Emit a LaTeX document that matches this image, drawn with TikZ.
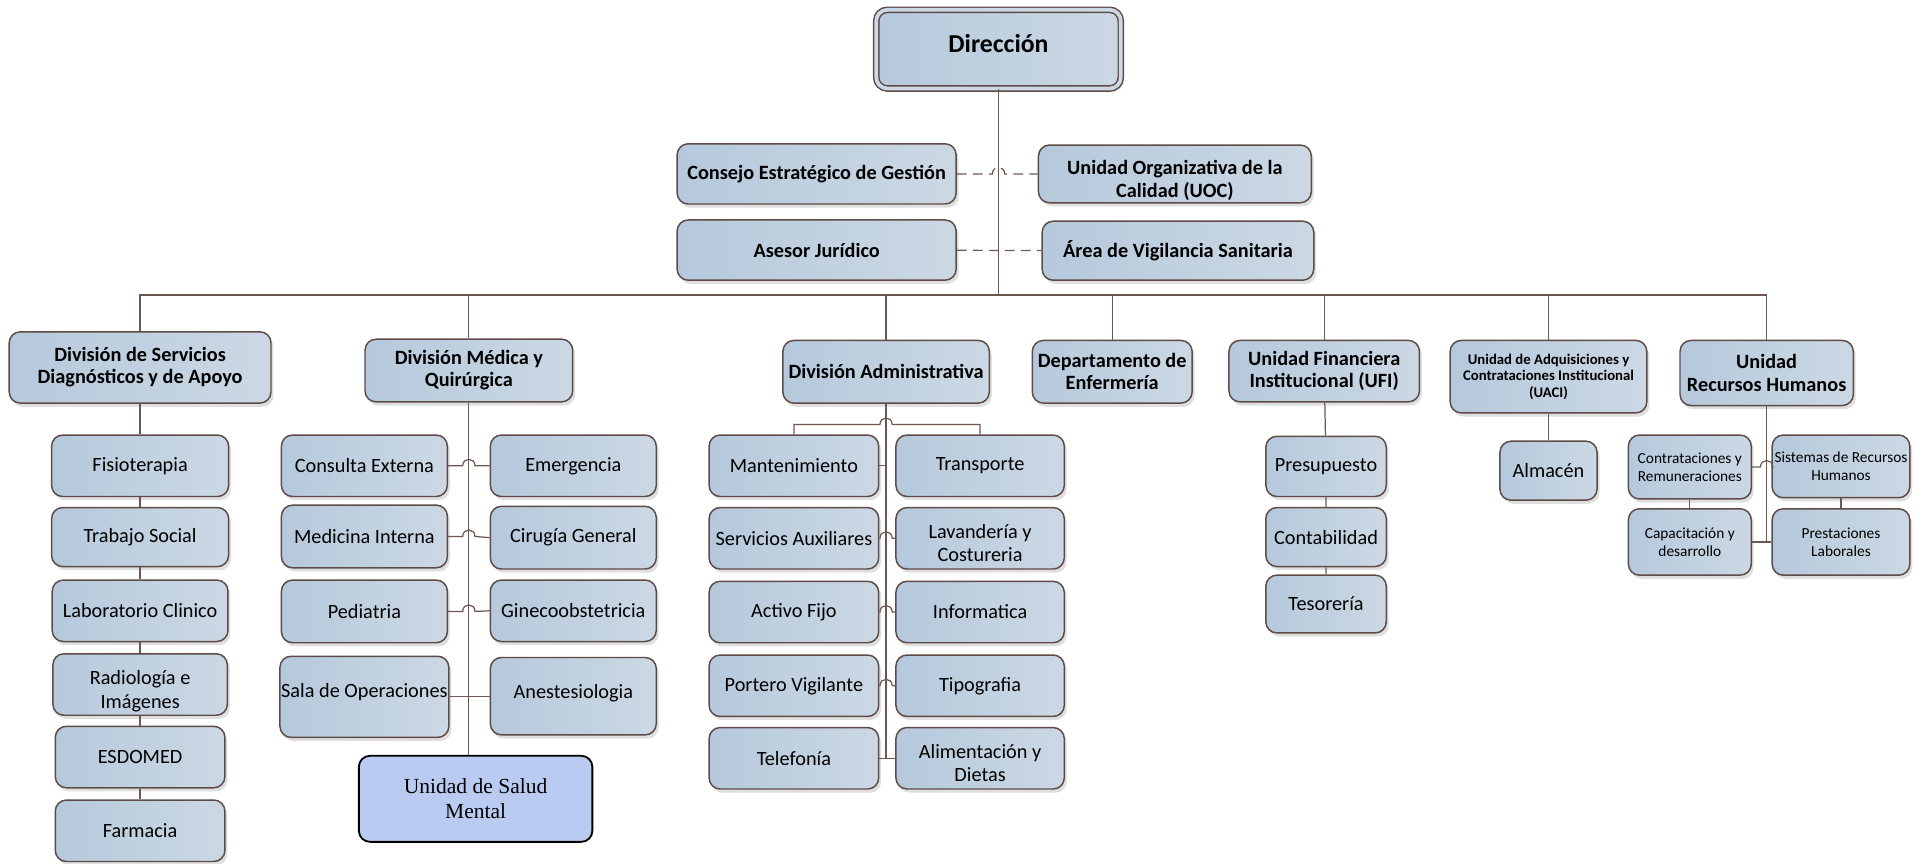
\documentclass[tikz,border=0pt]{standalone}
\usepackage{fontspec}
\setmainfont{Carlito}
\newfontfamily\timesfont{Liberation Serif}
\usepackage{tikz}
\usetikzlibrary{shadows,calc}
\definecolor{boxleft}{HTML}{B5C9DC}
\definecolor{boxright}{HTML}{CCD8E4}
\definecolor{boxborder}{HTML}{5E4B47}
\definecolor{linkcolor}{HTML}{6E5751}
\definecolor{mentalfill}{HTML}{B9CBF0}
\newcommand{\boxtext}{\fontsize{16.5}{18}\selectfont}
\newcommand{\headtext}{\fontsize{16.5}{18}\selectfont\bfseries}
\newcommand{\smalltext}{\fontsize{12.5}{14.5}\selectfont}
\newcommand{\lowtext}[1]{\raisebox{-10.5pt}[0pt][0pt]{\begin{tabular}{@{}c@{}}#1\end{tabular}}}
\tikzstyle{unit}=[draw=boxborder, line width=1.2pt, rounded corners=9pt,
                  left color=boxleft, right color=boxright, align=center, inner sep=1pt,
                  font=\boxtext,
                  % soft shadow below right
                  drop shadow={shadow xshift=2pt, shadow yshift=-3pt, opacity=0.18, fill=black!70}]
\tikzstyle{hunit}=[unit, font=\headtext]
\tikzstyle{mental}=[draw=black, line width=1.5pt, rounded corners=9pt, fill=mentalfill,
                    align=center, font=\timesfont\fontsize{17.5}{20}\selectfont]
\tikzstyle{link}=[draw=linkcolor, line width=1pt]
\tikzstyle{advice}=[link, dash pattern=on 8pt off 5pt]
\tikzset{dims/.style 2 args={minimum width=#1pt, minimum height=#2pt}}
% line from #2 to #3 that jumps over the vertical through #4
\newcommand{\hopover}[4][link]{%
  \draw[#1] (#2.east) -- ($(#2.east -| #4)+(-5,0)$) .. controls +(0,-7) and +(0,-7) .. ++(10,0) -- (#3.west);}

\begin{document}
\begin{tikzpicture}[x=1pt, y=-1pt]
  \useasboundingbox (0,0) rectangle (1568,703);

  % top
  \node[hunit, dims={199}{64}, double=boxright, double distance=3pt,
        font=\fontsize{21}{22}\selectfont\bfseries] (dir) at (812.5,40) {\raisebox{10pt}{Dirección}};
  \node[hunit, dims={227}{49}] (cons) at (664.5,141.5) {Consejo Estratégico de Gestión};
  \node[hunit, dims={222}{47}] (uoc) at (956,141.5) {\lowtext{Unidad Organizativa de la\\[1pt]Calidad (UOC)}};
  \node[hunit, dims={227}{49}] (ases) at (664.5,203.5) {Asesor Jurídico};
  \node[hunit, dims={221}{48}] (avs) at (958.5,204) {Área de Vigilancia Sanitaria};
  \coordinate (bus) at (812.5,240);

  % divisions
  \node[hunit, dims={213}{58}] (dsd) at (114,299) {División de Servicios\\Diagnósticos y de Apoyo};
  \node[hunit, dims={169}{51}] (dmq) at (381.5,301.5) {División Médica y\\Quirúrgica};
  \node[hunit, dims={168}{51}] (dad) at (721,302.5) {División Administrativa};
  \node[hunit, dims={130}{51}] (denf) at (905,302.5) {Departamento de\\Enfermería};
  \node[hunit, dims={155}{50}] (ufi) at (1077.5,302) {Unidad Financiera\\Institucional (UFI)};
  \node[unit, dims={160}{59}, font=\fontsize{12}{13.5}\selectfont\bfseries] (uaci) at (1260,306.5)
       {Unidad de Adquisiciones y\\Contrataciones Institucional\\(UACI)};
  \node[hunit, dims={141}{53}] (urh) at (1437.5,303.5) {Unidad\\Recursos Humanos};

  % servicios diagnosticos
  \node[unit, dims={144}{50}] (fis) at (114,379) {Fisioterapia};
  \node[unit, dims={144}{48}] (tso) at (114,437) {Trabajo Social};
  \node[unit, dims={143}{50}] (lab) at (114,497) {Laboratorio Clinico};
  \node[unit, dims={142}{50}] (rad) at (114,557) {\lowtext{Radiología e\\[1pt]Imágenes}};
  \node[unit, dims={138}{50}] (esd) at (114,616) {ESDOMED};
  \node[unit, dims={138}{50}] (far) at (114,676) {Farmacia};

  % medica y quirurgica
  \node[unit, dims={135}{50}] (cex) at (296.5,379) {Consulta Externa};
  \node[unit, dims={135}{50}] (eme) at (466.5,379) {Emergencia};
  \node[unit, dims={135}{51}] (min) at (296.5,436.5) {Medicina Interna};
  \node[unit, dims={135}{51}] (cge) at (466.5,437.5) {Cirugía General};
  \node[unit, dims={135}{51}] (ped) at (296.5,497.5) {Pediatria};
  \node[unit, dims={135}{50}] (gin) at (466.5,497) {Ginecoobstetricia};
  \node[unit, dims={135}{66}] (sop) at (296.5,567) {\raisebox{10pt}{Sala de Operaciones}};
  \node[unit, dims={135}{63}] (ane) at (466.5,566.5) {\raisebox{8pt}{Anestesiologia}};
  \node[mental, dims={190}{70}] (usm) at (387,650) {Unidad de Salud\\Mental};

  % administrativa
  \node[unit, dims={138}{50}] (man) at (646,379) {Mantenimiento};
  \node[unit, dims={137}{50}] (trn) at (797.5,379) {Transporte};
  \node[unit, dims={138}{50}] (sau) at (646,438) {Servicios Auxiliares};
  \node[unit, dims={137}{50}] (lav) at (797.5,438) {\lowtext{Lavandería y\\[1pt]Costureria}};
  \node[unit, dims={138}{50}] (afi) at (646,498) {Activo Fijo};
  \node[unit, dims={137}{50}] (inf) at (797.5,498) {Informatica};
  \node[unit, dims={138}{50}] (pvi) at (646,558) {Portero Vigilante};
  \node[unit, dims={137}{50}] (tip) at (797.5,558) {Tipografia};
  \node[unit, dims={138}{50}] (tel) at (646,617) {Telefonía};
  \node[unit, dims={137}{50}] (ali) at (797.5,617) {\lowtext{Alimentación y\\[1pt]Dietas}};

  % financiera
  \node[unit, dims={98}{49}] (pre) at (1079,379.5) {Presupuesto};
  \node[unit, dims={98}{48}] (cnt) at (1079,437) {Contabilidad};
  \node[unit, dims={98}{47}] (tes) at (1079,491.5) {Tesorería};

  % adquisiciones
  \node[unit, dims={79}{48}] (alm) at (1260,383) {Almacén};

  % recursos humanos
  \node[unit, dims={100}{52}, font=\smalltext] (cre) at (1375,380) {Contrataciones y\\Remuneraciones};
  \node[unit, dims={112}{51}, font=\smalltext] (srh) at (1498,379.5) {Sistemas de Recursos\\Humanos};
  \node[unit, dims={100}{54}, font=\smalltext] (cad) at (1375,441) {Capacitación y\\desarrollo};
  \node[unit, dims={112}{54}, font=\smalltext] (pla) at (1498,441) {Prestaciones\\Laborales};

  % connectors
  \draw[link] (dir) -- (bus);
  \hopover[advice]{cons}{uoc}{dir.south}
  \draw[advice] (ases) -- (avs);
  \draw[link] (dsd.north) |- (bus);
  \draw[link] (dmq.north) |- (bus);
  \draw[link] (dad.north) |- (bus);
  \draw[link] (denf.north) |- (bus);
  \draw[link] (ufi.north) |- (bus);
  \draw[link] (uaci.north) |- (bus);
  \draw[link] (urh.north) |- (bus);

  \draw[link] (dsd) -- (fis) -- (tso) -- (lab) -- (rad) -- (esd) -- (far);

  \draw[link] (dmq.south) -- (dmq.south |- usm.north);
  \hopover{cex}{eme}{dmq.south}
  \hopover{min}{cge}{dmq.south}
  \hopover{ped}{gin}{dmq.south}
  \draw[link] (sop.east) -- (sop.east -| dmq.south);
  \draw[link] (ane.west) -- (ane.west -| dmq.south);

  \draw[link] (dad.south) -- (dad.south |- tel.east);
  \draw[link] (man.north) -- ++(0,-8) -- ($(man.north -| dad.south)+(-5,-8)$)
              .. controls +(0,-7) and +(0,-7) .. ++(10,0) -| (trn.north);
  \draw[link] (man.east) -- (man.east -| dad.south);
  \hopover{sau}{lav}{dad.south}
  \hopover{afi}{inf}{dad.south}
  \hopover{pvi}{tip}{dad.south}
  \draw[link] (tel) -- (ali);

  \draw[link] (ufi) -- (pre) -- (cnt) -- (tes);
  \draw[link] (uaci) -- (alm);

  \draw[link] (urh.south) -- (urh.south |- cad.east);
  \hopover{cre}{srh}{urh.south}
  \draw[link] (cad) -- (pla);
  \draw[link] (cre) -- (cad);
  \draw[link] (srh) -- (pla);
\end{tikzpicture}
\end{document}
